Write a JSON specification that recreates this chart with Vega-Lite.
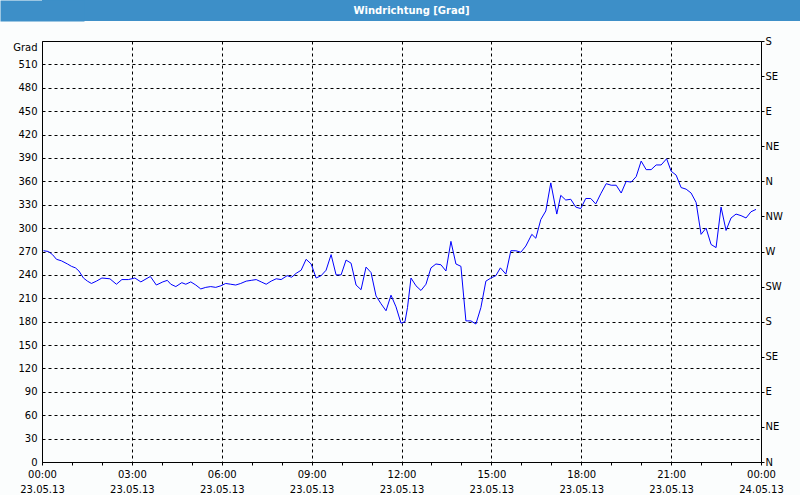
{
  "$schema": "https://vega.github.io/schema/vega-lite/v6.json",
  "padding": 0,
  "background": "#fbfdfd",
  "spacing": 14,
  "config": {
    "font": "DejaVu Sans",
    "view": {"stroke": null},
    "axis": {"labelFont": "DejaVu Sans", "labelFontSize": 10, "labelColor": "#000000", "domain": false, "titleFont": "DejaVu Sans", "titleFontSize": 10, "titleFontWeight": "normal", "titleColor": "#000000"}
  },
  "datasets": {
    "wind": [
      {"time": "2013-05-23T00:03", "dir": 271}, {"time": "2013-05-23T00:13", "dir": 270}, {"time": "2013-05-23T00:21", "dir": 266}, {"time": "2013-05-23T00:29", "dir": 260},
      {"time": "2013-05-23T00:39", "dir": 258}, {"time": "2013-05-23T00:51", "dir": 254}, {"time": "2013-05-23T00:59", "dir": 251}, {"time": "2013-05-23T01:07", "dir": 249},
      {"time": "2013-05-23T01:14", "dir": 245}, {"time": "2013-05-23T01:23", "dir": 236}, {"time": "2013-05-23T01:31", "dir": 232}, {"time": "2013-05-23T01:39", "dir": 229},
      {"time": "2013-05-23T01:49", "dir": 232}, {"time": "2013-05-23T02:00", "dir": 236}, {"time": "2013-05-23T02:16", "dir": 235}, {"time": "2013-05-23T02:29", "dir": 228},
      {"time": "2013-05-23T02:40", "dir": 234}, {"time": "2013-05-23T02:53", "dir": 234}, {"time": "2013-05-23T03:06", "dir": 236}, {"time": "2013-05-23T03:18", "dir": 231},
      {"time": "2013-05-23T03:37", "dir": 238}, {"time": "2013-05-23T03:49", "dir": 227}, {"time": "2013-05-23T04:02", "dir": 231}, {"time": "2013-05-23T04:11", "dir": 233},
      {"time": "2013-05-23T04:18", "dir": 228}, {"time": "2013-05-23T04:28", "dir": 225}, {"time": "2013-05-23T04:40", "dir": 230}, {"time": "2013-05-23T04:48", "dir": 228},
      {"time": "2013-05-23T04:58", "dir": 231}, {"time": "2013-05-23T05:08", "dir": 227}, {"time": "2013-05-23T05:18", "dir": 222}, {"time": "2013-05-23T05:28", "dir": 224},
      {"time": "2013-05-23T05:38", "dir": 225}, {"time": "2013-05-23T05:48", "dir": 224}, {"time": "2013-05-23T05:58", "dir": 226}, {"time": "2013-05-23T06:08", "dir": 229},
      {"time": "2013-05-23T06:18", "dir": 228}, {"time": "2013-05-23T06:28", "dir": 227}, {"time": "2013-05-23T06:38", "dir": 229}, {"time": "2013-05-23T06:49", "dir": 232},
      {"time": "2013-05-23T06:59", "dir": 233}, {"time": "2013-05-23T07:09", "dir": 234}, {"time": "2013-05-23T07:19", "dir": 231}, {"time": "2013-05-23T07:29", "dir": 228},
      {"time": "2013-05-23T07:39", "dir": 232}, {"time": "2013-05-23T07:49", "dir": 235}, {"time": "2013-05-23T07:59", "dir": 234}, {"time": "2013-05-23T08:11", "dir": 239},
      {"time": "2013-05-23T08:20", "dir": 237}, {"time": "2013-05-23T08:29", "dir": 242}, {"time": "2013-05-23T08:39", "dir": 246}, {"time": "2013-05-23T08:49", "dir": 260},
      {"time": "2013-05-23T08:59", "dir": 254}, {"time": "2013-05-23T09:09", "dir": 236}, {"time": "2013-05-23T09:19", "dir": 239}, {"time": "2013-05-23T09:29", "dir": 246},
      {"time": "2013-05-23T09:39", "dir": 266}, {"time": "2013-05-23T09:49", "dir": 240}, {"time": "2013-05-23T09:59", "dir": 240}, {"time": "2013-05-23T10:09", "dir": 259},
      {"time": "2013-05-23T10:19", "dir": 255}, {"time": "2013-05-23T10:29", "dir": 227}, {"time": "2013-05-23T10:39", "dir": 221}, {"time": "2013-05-23T10:49", "dir": 250},
      {"time": "2013-05-23T10:59", "dir": 243}, {"time": "2013-05-23T11:09", "dir": 213}, {"time": "2013-05-23T11:19", "dir": 203}, {"time": "2013-05-23T11:29", "dir": 194},
      {"time": "2013-05-23T11:39", "dir": 214}, {"time": "2013-05-23T11:49", "dir": 199}, {"time": "2013-05-23T11:59", "dir": 178}, {"time": "2013-05-23T12:07", "dir": 180},
      {"time": "2013-05-23T12:12", "dir": 198}, {"time": "2013-05-23T12:19", "dir": 236}, {"time": "2013-05-23T12:29", "dir": 226}, {"time": "2013-05-23T12:39", "dir": 220},
      {"time": "2013-05-23T12:49", "dir": 228}, {"time": "2013-05-23T12:59", "dir": 249}, {"time": "2013-05-23T13:09", "dir": 254}, {"time": "2013-05-23T13:19", "dir": 253},
      {"time": "2013-05-23T13:29", "dir": 245}, {"time": "2013-05-23T13:39", "dir": 283}, {"time": "2013-05-23T13:49", "dir": 254}, {"time": "2013-05-23T13:59", "dir": 251},
      {"time": "2013-05-23T14:09", "dir": 181}, {"time": "2013-05-23T14:19", "dir": 181}, {"time": "2013-05-23T14:29", "dir": 177}, {"time": "2013-05-23T14:39", "dir": 198},
      {"time": "2013-05-23T14:49", "dir": 232}, {"time": "2013-05-23T14:59", "dir": 236}, {"time": "2013-05-23T15:09", "dir": 239}, {"time": "2013-05-23T15:18", "dir": 249},
      {"time": "2013-05-23T15:29", "dir": 241}, {"time": "2013-05-23T15:39", "dir": 271}, {"time": "2013-05-23T15:49", "dir": 271}, {"time": "2013-05-23T15:59", "dir": 269},
      {"time": "2013-05-23T16:09", "dir": 277}, {"time": "2013-05-23T16:21", "dir": 292}, {"time": "2013-05-23T16:29", "dir": 287}, {"time": "2013-05-23T16:39", "dir": 311},
      {"time": "2013-05-23T16:49", "dir": 322}, {"time": "2013-05-23T16:59", "dir": 358}, {"time": "2013-05-23T17:11", "dir": 318}, {"time": "2013-05-23T17:19", "dir": 342},
      {"time": "2013-05-23T17:29", "dir": 336}, {"time": "2013-05-23T17:39", "dir": 337}, {"time": "2013-05-23T17:49", "dir": 327}, {"time": "2013-05-23T17:59", "dir": 325},
      {"time": "2013-05-23T18:09", "dir": 338}, {"time": "2013-05-23T18:19", "dir": 338}, {"time": "2013-05-23T18:29", "dir": 331}, {"time": "2013-05-23T18:39", "dir": 344},
      {"time": "2013-05-23T18:50", "dir": 357}, {"time": "2013-05-23T19:00", "dir": 355}, {"time": "2013-05-23T19:10", "dir": 355}, {"time": "2013-05-23T19:20", "dir": 345},
      {"time": "2013-05-23T19:30", "dir": 360}, {"time": "2013-05-23T19:40", "dir": 359}, {"time": "2013-05-23T19:50", "dir": 366}, {"time": "2013-05-23T20:00", "dir": 386},
      {"time": "2013-05-23T20:10", "dir": 375}, {"time": "2013-05-23T20:20", "dir": 375}, {"time": "2013-05-23T20:30", "dir": 381}, {"time": "2013-05-23T20:40", "dir": 381},
      {"time": "2013-05-23T20:51", "dir": 389}, {"time": "2013-05-23T21:00", "dir": 373}, {"time": "2013-05-23T21:10", "dir": 368}, {"time": "2013-05-23T21:20", "dir": 352},
      {"time": "2013-05-23T21:30", "dir": 350}, {"time": "2013-05-23T21:40", "dir": 345}, {"time": "2013-05-23T21:50", "dir": 333}, {"time": "2013-05-23T22:00", "dir": 292},
      {"time": "2013-05-23T22:10", "dir": 300}, {"time": "2013-05-23T22:20", "dir": 279}, {"time": "2013-05-23T22:30", "dir": 275}, {"time": "2013-05-23T22:40", "dir": 327},
      {"time": "2013-05-23T22:50", "dir": 297}, {"time": "2013-05-23T23:00", "dir": 313}, {"time": "2013-05-23T23:10", "dir": 318}, {"time": "2013-05-23T23:20", "dir": 316},
      {"time": "2013-05-23T23:30", "dir": 313}, {"time": "2013-05-23T23:40", "dir": 321}, {"time": "2013-05-23T23:50", "dir": 324}
    ]
  },
  "vconcat": [
    {
      "width": 759,
      "height": 21,
      "view": {"fill": "#3d8fc8", "stroke": null},
      "data": {"values": [{"label": "Windrichtung [Grad]"}]},
      "mark": {"type": "text", "font": "DejaVu Sans", "fontSize": 10, "fontWeight": "bold", "color": "#ffffff", "dx": -10, "baseline": "middle", "align": "center"},
      "encoding": {
        "text": {"field": "label", "type": "nominal"},
        "y": {"field": "label", "type": "nominal", "axis": {"title": null, "labels": false, "ticks": false, "grid": false, "domain": true, "domainColor": "#3d8fc8", "domainWidth": 84, "domainCap": "butt"}}
      }
    },
    {
      "width": 719,
      "height": 421,
      "view": {"stroke": "#000000", "strokeWidth": 1},
      "data": {"name": "wind"},
      "encoding": {
        "x": {
          "field": "time", "type": "temporal",
          "scale": {"domain": [{"year": 2013, "month": 5, "date": 23, "hours": 0}, {"year": 2013, "month": 5, "date": 24, "hours": 0}], "nice": false},
          "axis": {
            "title": null,
            "values": [
              {"year": 2013, "month": 5, "date": 23, "hours": 0}, {"year": 2013, "month": 5, "date": 23, "hours": 1}, {"year": 2013, "month": 5, "date": 23, "hours": 2},
              {"year": 2013, "month": 5, "date": 23, "hours": 3}, {"year": 2013, "month": 5, "date": 23, "hours": 4}, {"year": 2013, "month": 5, "date": 23, "hours": 5},
              {"year": 2013, "month": 5, "date": 23, "hours": 6}, {"year": 2013, "month": 5, "date": 23, "hours": 7}, {"year": 2013, "month": 5, "date": 23, "hours": 8},
              {"year": 2013, "month": 5, "date": 23, "hours": 9}, {"year": 2013, "month": 5, "date": 23, "hours": 10}, {"year": 2013, "month": 5, "date": 23, "hours": 11},
              {"year": 2013, "month": 5, "date": 23, "hours": 12}, {"year": 2013, "month": 5, "date": 23, "hours": 13}, {"year": 2013, "month": 5, "date": 23, "hours": 14},
              {"year": 2013, "month": 5, "date": 23, "hours": 15}, {"year": 2013, "month": 5, "date": 23, "hours": 16}, {"year": 2013, "month": 5, "date": 23, "hours": 17},
              {"year": 2013, "month": 5, "date": 23, "hours": 18}, {"year": 2013, "month": 5, "date": 23, "hours": 19}, {"year": 2013, "month": 5, "date": 23, "hours": 20},
              {"year": 2013, "month": 5, "date": 23, "hours": 21}, {"year": 2013, "month": 5, "date": 23, "hours": 22}, {"year": 2013, "month": 5, "date": 23, "hours": 23},
              {"year": 2013, "month": 5, "date": 24, "hours": 0}
            ],
            "labelExpr": "hours(datum.value) % 3 === 0 ? [timeFormat(datum.value, '%H:%M'), timeFormat(datum.value, '%d.%m.%y')] : ''",
            "labelOverlap": false,
            "labelFlush": false,
            "labelLineHeight": 15,
            "labelPadding": 4,
            "tickSize": 3,
            "tickColor": "#000000",
            "grid": true,
            "gridColor": "#000000",
            "gridDash": [3, 3],
            "gridOpacity": {"condition": {"test": "hours(datum.value) % 3 === 0", "value": 1}, "value": 0}
          }
        }
      },
      "layer": [
        {
          "mark": {"type": "line", "color": "#0000ff", "strokeWidth": 1},
          "encoding": {
            "y": {
              "field": "dir", "type": "quantitative",
              "scale": {"domain": [0, 540], "nice": false, "zero": true},
              "axis": {
                "orient": "left",
                "values": [0, 30, 60, 90, 120, 150, 180, 210, 240, 270, 300, 330, 360, 390, 420, 450, 480, 510],
                "title": "Grad",
                "titleAngle": 0,
                "titleAlign": "right",
                "titleBaseline": "middle",
                "titleX": -5,
                "titleY": 6,
                "tickSize": 0,
                "labelPadding": 5,
                "minExtent": 41,
                "maxExtent": 41,
                "grid": true,
                "gridColor": "#000000",
                "gridDash": [3, 3]
              }
            }
          }
        },
        {
          "mark": {"type": "line", "strokeOpacity": 0},
          "encoding": {
            "y": {
              "field": "dir", "type": "quantitative",
              "scale": {"domain": [0, 540], "nice": false, "zero": true},
              "axis": {
                "orient": "right",
                "title": null,
                "values": [0, 45, 90, 135, 180, 225, 270, 315, 360, 405, 450, 495, 540],
                "labelExpr": "['N','NE','E','SE','S','SW','W','NW'][(datum.value / 45) % 8]",
                "tickSize": 3,
                "tickColor": "#000000",
                "labelPadding": 1,
                "grid": false
              }
            }
          }
        }
      ],
      "resolve": {"axis": {"y": "independent"}}
    }
  ]
}
